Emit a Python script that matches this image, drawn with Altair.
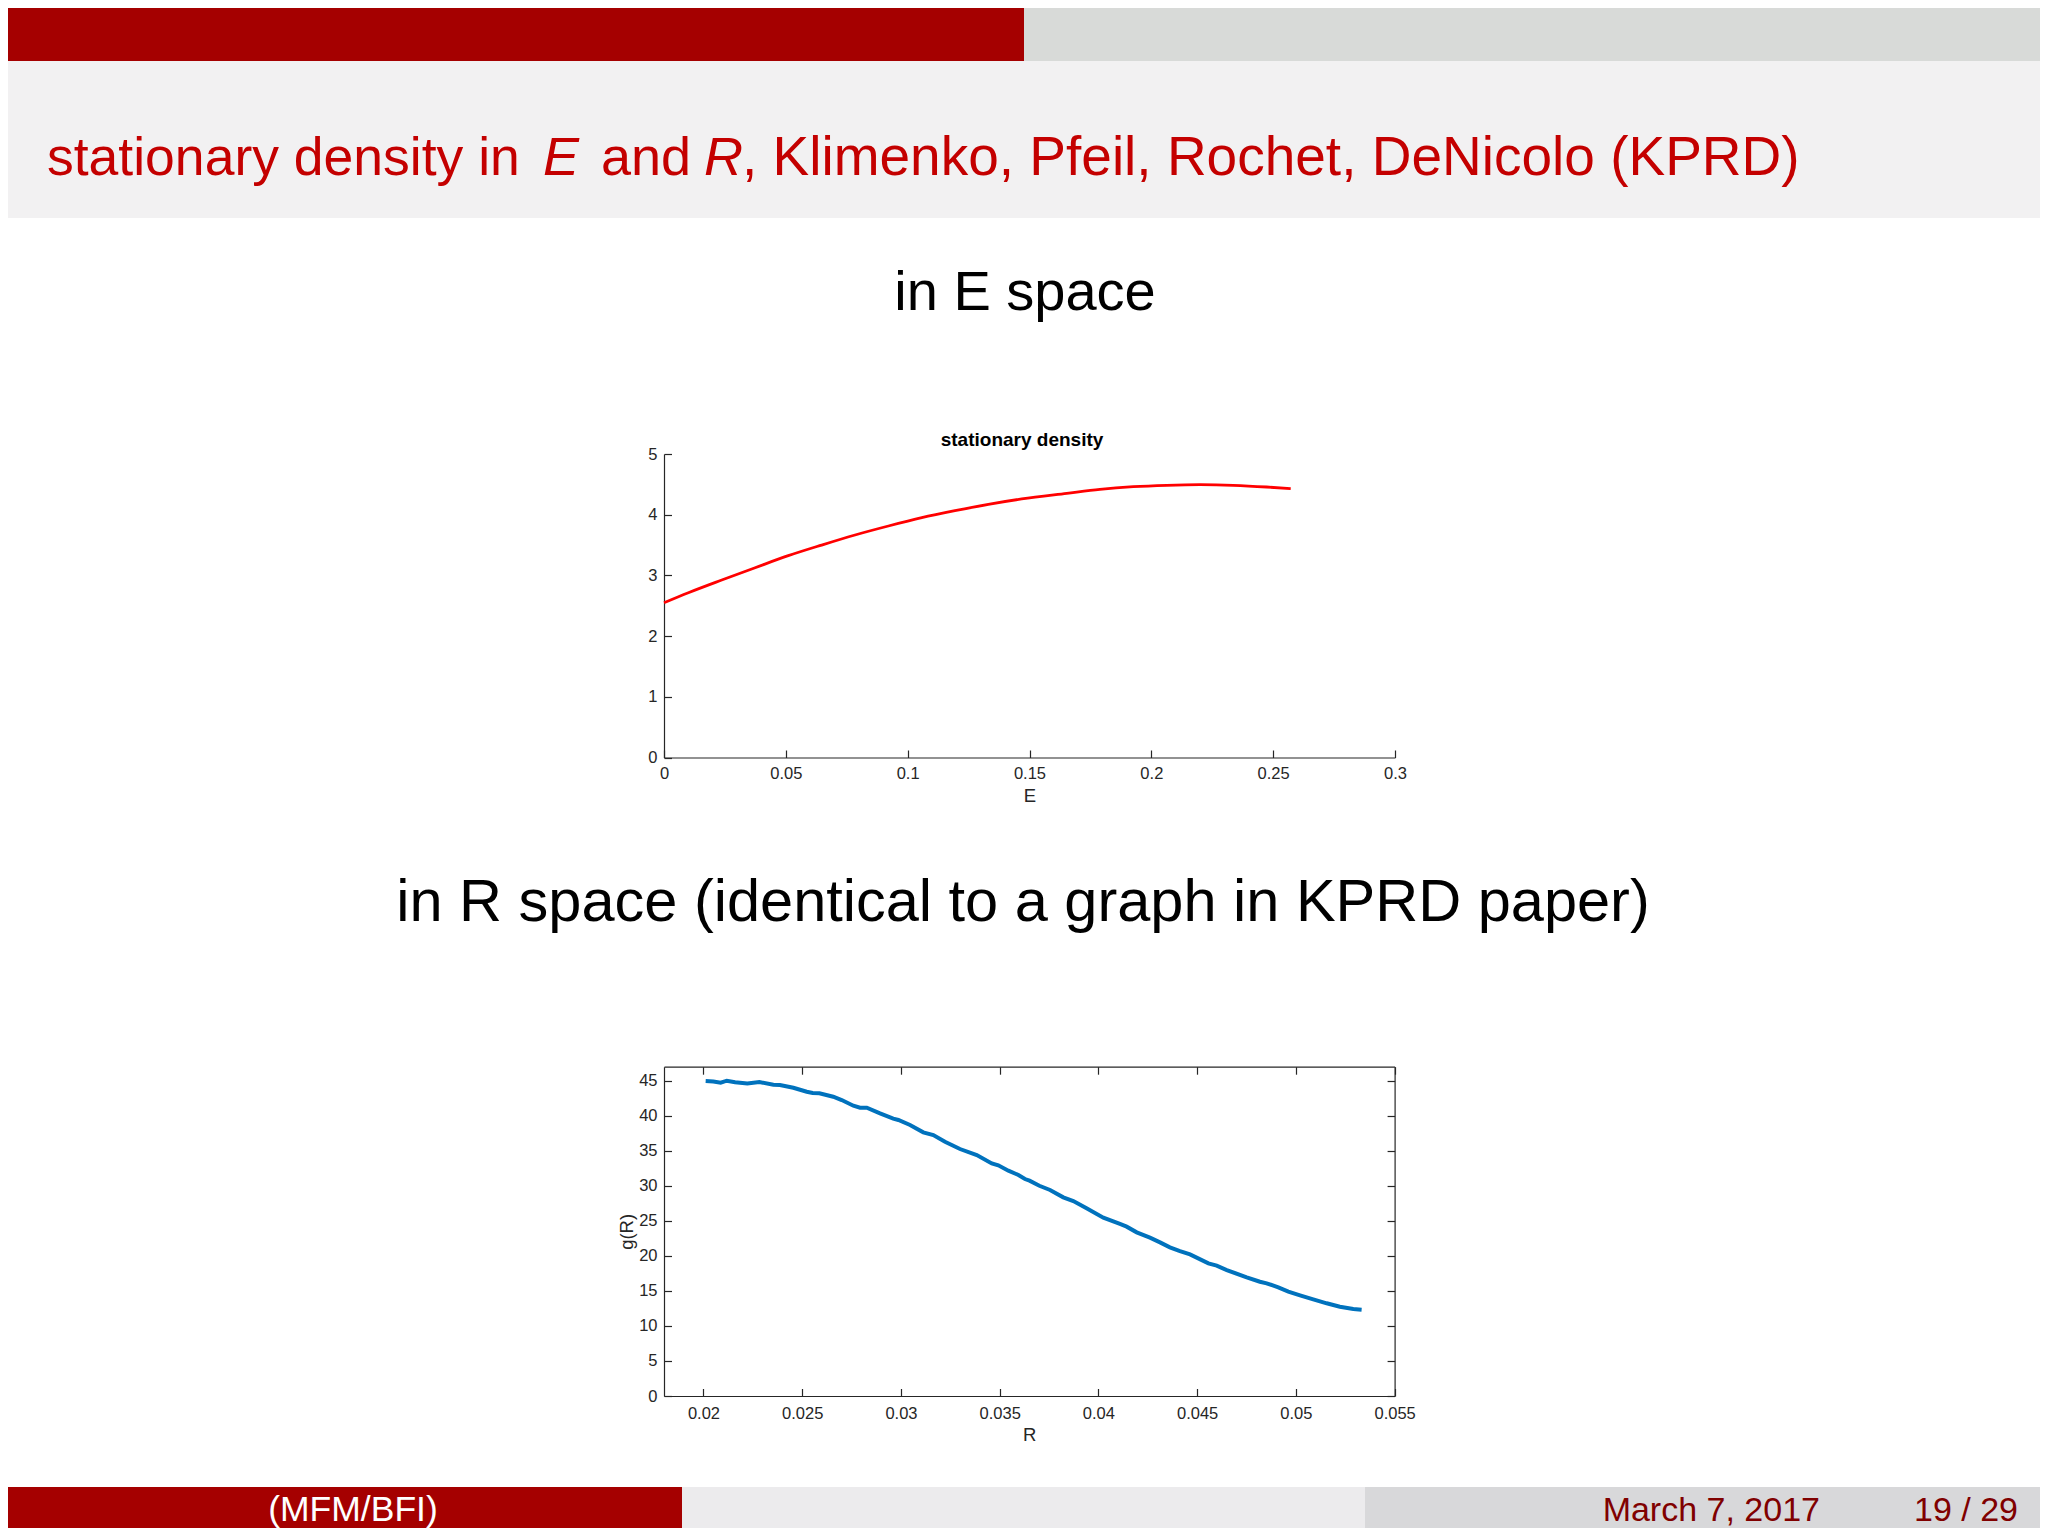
import altair as alt
import pandas as pd

# ---------------- data ----------------
E_vals = [0.0, 0.0100, 0.0237, 0.0374, 0.0510, 0.0647, 0.0784, 0.0921, 0.1058, 0.1194,
          0.1331, 0.1468, 0.1653, 0.1789, 0.1926, 0.2063, 0.2200, 0.2336, 0.2473, 0.2572]
E_density = [2.55, 2.715, 2.924, 3.127, 3.325, 3.50, 3.666, 3.814, 3.951, 4.066,
             4.171, 4.259, 4.352, 4.418, 4.461, 4.484, 4.494, 4.484, 4.456, 4.428]

R_vals = [0.02011, 0.0205, 0.02087, 0.02118, 0.0216, 0.02222, 0.02283, 0.02354, 0.02387, 0.02455,
          0.02523, 0.02553, 0.02587, 0.02657, 0.0270, 0.02759, 0.02793, 0.02827, 0.02894, 0.02961,
          0.02987, 0.03046, 0.03113, 0.03164, 0.03223, 0.03299, 0.03384, 0.0346, 0.03493, 0.03544,
          0.03595, 0.03628, 0.03651, 0.03701, 0.03755, 0.03822, 0.03873, 0.0394, 0.04025, 0.04109,
          0.04143, 0.04194, 0.04261, 0.04312, 0.04362, 0.04413, 0.04464, 0.04557, 0.04599, 0.0465,
          0.04751, 0.04818, 0.04852, 0.04911, 0.04962, 0.05021, 0.05088, 0.05156, 0.05223, 0.05291,
          0.05333]
g_vals = [44.96, 44.9, 44.72, 45.0, 44.77, 44.62, 44.81, 44.43, 44.38, 44.0,
          43.43, 43.24, 43.2, 42.72, 42.24, 41.43, 41.15, 41.15, 40.34, 39.58,
          39.39, 38.68, 37.63, 37.25, 36.29, 35.25, 34.39, 33.2, 32.92, 32.16,
          31.54, 30.97, 30.73, 30.01, 29.4, 28.35, 27.83, 26.78, 25.45, 24.55,
          24.17, 23.36, 22.6, 21.93, 21.22, 20.69, 20.22, 18.93, 18.6, 17.98,
          16.94, 16.31, 16.08, 15.51, 14.89, 14.37, 13.8, 13.23, 12.74, 12.42,
          12.32]

E_ticks = [0, 0.05, 0.1, 0.15, 0.2, 0.25, 0.3]
E_yticks = [0, 1, 2, 3, 4, 5]
R_ticks = [0.02, 0.025, 0.03, 0.035, 0.04, 0.045, 0.05, 0.055]
g_ticks = [0, 5, 10, 15, 20, 25, 30, 35, 40, 45]

slide_title_parts = ["stationary density in", "E", "and", "R", ", Klimenko, Pfeil, Rochet, DeNicolo (KPRD)"]
heading_E = "in E space"
heading_R = "in R space (identical to a graph in KPRD paper)"
plot1_title = "stationary density"
footer_left = "(MFM/BFI)"
footer_date = "March 7, 2017"
footer_page = "19 / 29"

# ---------------- layout (page pixels -> chart pixels) ----------------
W, H = 2032, 1520
M = 8


def cx(v):
    return v - M


def cy(v):
    return v - M


SLIDE_FONT = "Liberation Sans"
PLOT_FONT = "Liberation Sans"
AX = "#262626"
RED_BAR = "#a50000"
TITLE_RED = "#c40000"
FOOT_TXT = "#800000"

one = pd.DataFrame({"k": [0]})
base = alt.Chart(one)


def band(x0, x1, y0, y1, color):
    return base.mark_rect(color=color).encode(
        x=alt.value(cx(x0)), x2=alt.value(cx(x1)),
        y=alt.value(cy(y0)), y2=alt.value(cy(y1)))


def txt(s, x, y, size, color="black", align="left", weight="normal", style="normal",
        font=SLIDE_FONT):
    return base.mark_text(text=s, align=align, baseline="alphabetic", fontSize=size,
                          color=color, fontWeight=weight, fontStyle=style, font=font).encode(
        x=alt.value(cx(x)), y=alt.value(cy(y)))


decor = [
    band(0, 1024, 0, 61, RED_BAR),
    band(1024, 2048, 0, 61, "#d8dad8"),
    band(0, 2048, 61, 218, "#f2f1f2"),
    band(0, 682, 1487, 1536, RED_BAR),
    band(682, 1365, 1487, 1536, "#ecebed"),
    band(1365, 2048, 1487, 1536, "#d8d8da"),
]

texts = [
    txt(slide_title_parts[0], 47, 175, 53.5, TITLE_RED),
    txt(slide_title_parts[1], 543, 175, 54, TITLE_RED, style="italic"),
    txt(slide_title_parts[2], 601, 175, 54, TITLE_RED),
    txt(slide_title_parts[3], 704, 175, 54, TITLE_RED, style="italic"),
    txt(slide_title_parts[4], 742, 175, 55, TITLE_RED),
    txt(heading_E, 1025, 310, 56, align="center"),
    txt(heading_R, 1023, 921, 59.5, align="center"),
    txt(plot1_title, 1022, 446, 19, align="center", weight="bold", font=PLOT_FONT),
    txt(footer_left, 353, 1521, 35.5, "white", align="center"),
    txt(footer_date, 1820, 1521, 34, FOOT_TXT, align="right"),
    txt(footer_page, 2018, 1521, 34, FOOT_TXT, align="right"),
]

LBL = dict(labelFont=PLOT_FONT, labelFontSize=16.5, labelColor=AX, labelFlush=False,
           titleFont=PLOT_FONT, titleFontSize=18.5, titleFontWeight="normal", titleColor=AX,
           domainColor=AX, domainWidth=1.2, tickColor=AX, tickWidth=1.2, grid=False)
TICKONLY = dict(labels=False, domain=False, grid=False, ticks=True, tickSize=7.5,
                tickColor=AX, tickWidth=1.2, title=None)

# ---------------- plot 1: E space ----------------
df1 = pd.DataFrame({"E": E_vals, "density": E_density})
p1_x0, p1_x1, p1_y0, p1_y1 = 664, 1395, 757.5, 454
xs1 = alt.Scale(domain=[0, 0.3], range=[cx(p1_x0), cx(p1_x1)], nice=False, zero=False)
ys1 = alt.Scale(domain=[0, 5], range=[cy(p1_y0), cy(p1_y1)], nice=False, zero=False)

p1_line = alt.Chart(df1).mark_line(color="#ff0000", strokeWidth=2.8, interpolate="monotone").encode(
    x=alt.X("E:Q", scale=xs1, axis=alt.Axis(
        orient="bottom", offset=cy(p1_y0) - H, values=E_ticks, format="~g",
        ticks=False, tickSize=0, labelPadding=8, title="E", titlePadding=4, **LBL)),
    y=alt.Y("density:Q", scale=ys1, axis=alt.Axis(
        orient="left", offset=-cx(p1_x0), values=E_yticks, format="~g",
        ticks=False, tickSize=0, labelPadding=7, title=None, **LBL)),
)
p1_ticks = alt.Chart(df1).mark_line(strokeOpacity=0).encode(
    x=alt.X("E:Q", scale=xs1, axis=alt.Axis(orient="top", offset=-cy(p1_y0), values=E_ticks, **TICKONLY)),
    y=alt.Y("density:Q", scale=ys1, axis=alt.Axis(orient="right", offset=cx(p1_x0) - W, values=E_yticks, **TICKONLY)),
)
p1 = alt.layer(p1_line, p1_ticks).resolve_axis(x="independent", y="independent")

# ---------------- plot 2: R space ----------------
df2 = pd.DataFrame({"R": R_vals, "g": g_vals})
p2_x0, p2_x1, p2_y0, p2_y1 = 664, 1394.6, 1396, 1066.7
xs2 = alt.Scale(domain=[0.018, 0.055], range=[cx(p2_x0), cx(p2_x1)], nice=False, zero=False)
ys2 = alt.Scale(domain=[0, 47], range=[cy(p2_y0), cy(p2_y1)], nice=False, zero=False)

p2_line = alt.Chart(df2).mark_line(color="#0072bd", strokeWidth=4).encode(
    x=alt.X("R:Q", scale=xs2, axis=alt.Axis(
        orient="bottom", offset=cy(p2_y0) - H, values=R_ticks, format="~g",
        ticks=False, tickSize=0, labelPadding=9, title="R", titlePadding=4, **LBL)),
    y=alt.Y("g:Q", scale=ys2, axis=alt.Axis(
        orient="left", offset=-cx(p2_x0), values=g_ticks, format="~g",
        ticks=False, tickSize=0, labelPadding=7, title="g(R)", titlePadding=2, **LBL)),
)
p2_inA = alt.Chart(df2).mark_line(strokeOpacity=0).encode(
    x=alt.X("R:Q", scale=xs2, axis=alt.Axis(orient="top", offset=-cy(p2_y0), values=R_ticks, **TICKONLY)),
    y=alt.Y("g:Q", scale=ys2, axis=alt.Axis(orient="right", offset=cx(p2_x0) - W, values=g_ticks, **TICKONLY)),
)
FRAME = dict(TICKONLY)
FRAME.update(domain=True, domainColor=AX, domainWidth=1.2)
p2_inB = alt.Chart(df2).mark_line(strokeOpacity=0).encode(
    x=alt.X("R:Q", scale=xs2, axis=alt.Axis(orient="bottom", offset=cy(p2_y1) - H, values=R_ticks, **FRAME)),
    y=alt.Y("g:Q", scale=ys2, axis=alt.Axis(orient="left", offset=-cx(p2_x1), values=g_ticks, **FRAME)),
)
p2 = alt.layer(p2_line, p2_inA, p2_inB).resolve_axis(x="independent", y="independent")

chart = alt.layer(*decor, *texts, p1, p2).resolve_scale(
    x="independent", y="independent"
).properties(
    width=W, height=H, padding=0, background="white",
    autosize=alt.AutoSizeParams(type="none"),
).configure_view(stroke=None)

chart.save("out.html", embed_options={"renderer": "svg", "actions": False})
